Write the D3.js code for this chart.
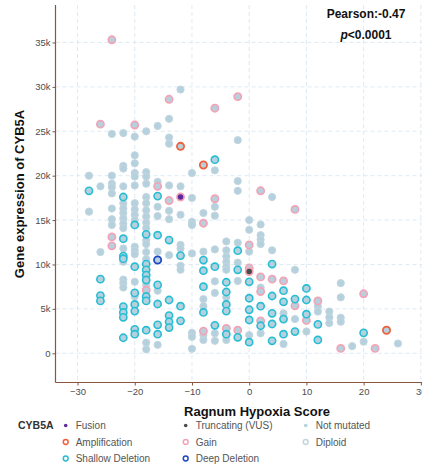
<!DOCTYPE html>
<html><head><meta charset="utf-8">
<script src="https://cdn.jsdelivr.net/npm/d3@7"></script>
<style>
body{margin:0;background:#fff;}
text{font-family:"Liberation Sans",Arial,Helvetica,sans-serif;}
</style></head>
<body><svg id="c" width="422" height="472"></svg>
<script>
// ---- data: [Ragnum hypoxia score, CYB5A expression (thousands)] ----
const diploid = [
[-28,20.0],[-28,15.95],
[-26,18.8],[-26,11.4],
[-24,24.7],[-24,20.0],[-24,19.1],[-24,18.7],[-24,18.0],[-24,16.3],[-24,15.1],[-24,14.45],
[-22,24.8],[-22,21.1],[-22,20.8],[-22,18.8],[-22,16.9],[-22,16.3],[-22,15.8],[-22,15.2],[-22,14.6],[-22,14.1],[-22,11.8],[-22,10.3],[-22,8.3],[-22,7.9],[-22,7.4],
[-20,24.4],[-20,22.3],[-20,21.4],[-20,20.3],[-20,19.9],[-20,18.9],[-20,16.9],[-20,16.2],[-20,15.6],[-20,15.0],[-20,12.0],[-20,11.55],[-20,11.15],[-20,8.05],[-20,6.4],
[-18,25.0],[-18,20.4],[-18,19.9],[-18,19.1],[-18,17.6],[-18,16.9],[-18,16.1],[-18,15.4],[-18,14.7],[-18,14.1],[-18,12.75],[-18,12.3],[-18,11.4],[-18,10.6],[-18,7.7],[-18,1.2],[-18,0.45],
[-16,25.6],[-16,19.3],[-16,16.5],[-16,15.45],[-16,11.45],[-16,7.05],[-16,0.95],
[-14,26.4],[-14,24.3],[-14,23.6],[-14,18.9],[-14,16.05],[-14,15.1],[-14,11.05],
[-12,29.7],[-12,18.8],[-12,15.6],[-12,12.2],[-12,11.8],[-12,9.85],[-12,9.4],
[-10,20.3],[-10,17.5],[-10,14.8],[-10,14.45],[-10,11.25],[-10,2.3],[-10,1.85],[-10,0.5],
[-8,15.8],[-8,11.45],[-8,6.1],[-8,5.3],[-8,2.05],[-8,1.5],
[-6,20.6],[-6,16.5],[-6,15.5],[-6,11.7],[-6,8.1],[-6,6.8],[-6,2.25],[-6,1.4],
[-4,12.6],[-4,11.6],[-4,10.9],[-4,10.3],[-4,9.75],[-4,9.4],[-4,6.3],[-4,1.5],
[-2,24.0],[-2,19.4],[-2,18.3],[-2,12.45],[-2,10.2],[-2,8.15],
[0,15.0],[0,13.9],[0,11.45],[0,2.05],
[2,14.5],[2,13.3],[2,12.8],[2,12.3],[2,7.4],[2,2.25],
[4,17.6],[4,11.6],
[6,4.5],[6,1.05],
[8,9.4],[8,3.85],
[10,2.45],
[12,5.3],[12,4.7],
[14,4.7],[14,4.05],[14,3.4],
[16,7.9],[16,6.3],[16,4.0],[16,3.55],
[18,0.8],[20,1.3],[26,1.1]
];
const gain = [
[-26,25.8],[-24,35.3],[-20,25.7],[-16,18.8],[-14,28.6],[-14,17.2],[-6,27.6],[-6,17.4],[-2,28.9],
[2,18.3],[8,16.2],[-24,13.1],[-24,12.1],[-18,7.1],[-8,14.65],[-8,2.5],[-4,2.8],[-2,2.6],
[0,12.2],[0,9.6],[2,8.6],[2,6.95],[2,3.65],[4,8.35],[6,8.15],[8,5.35],[10,3.7],[12,5.9],
[16,0.55],[20,6.7],[22,0.55]
];
const amplification = [[-12,23.3],[-8,21.2],[24,2.6]];
const shallowDeletion = [
[-28,18.3],[-22,17.6],[-16,17.7],[-6,21.8],
[-26,8.35],[-26,6.5],[-26,5.9],
[-22,12.9],[-22,10.95],[-22,10.65],[-22,5.25],[-22,4.6],[-22,4.05],[-22,1.75],
[-20,14.45],[-20,9.75],[-20,6.8],[-20,5.5],[-20,4.75],[-20,2.7],[-20,2.15],
[-18,13.4],[-18,10.05],[-18,9.4],[-18,8.8],[-18,8.25],[-18,6.4],[-18,5.9],[-18,2.6],
[-16,13.3],[-16,7.7],[-16,5.55],[-16,3.2],[-16,2.15],
[-14,12.75],[-14,6.0],[-14,4.25],[-14,3.55],[-14,2.9],
[-12,11.0],[-12,5.3],[-12,3.65],
[-8,10.5],[-8,9.3],[-8,7.5],[-8,4.6],
[-6,9.75],[-6,3.15],
[-4,8.0],[-4,6.9],[-4,5.5],[-4,4.75],[-4,2.15],
[-2,11.55],[-2,9.4],[-2,1.8],
[0,8.05],[0,6.2],[0,4.9],[0,3.75],[0,1.25],
[2,5.3],[2,3.1],
[4,10.05],[4,6.45],[4,4.5],[4,3.3],[4,1.4],
[6,7.05],[6,5.8],[6,3.85],[6,2.15],
[8,6.1],[8,2.45],
[10,7.3],[10,6.0],[10,4.4],
[12,3.25],[12,1.5],
[20,2.3]
];
const deepDeletion = [[-16,10.5]];
const fusion = [[-12,17.6]];       // CNA: gain
const truncating = [[0,9.2]];      // CNA: gain
const xTicks = [-30,-20,-10,0,10,20,30];
const yTicks = [0,5,10,15,20,25,30,35];
const legendItems = [
 ["Fusion","fusion"],["Amplification","amp"],["Shallow Deletion","shallow"],
 ["Truncating (VUS)","trunc"],["Gain","gain"],["Deep Deletion","deep"],
 ["Not mutated","notmut"],["Diploid","diploid"]
];

// ---- styles ----
const C = {
  notmut:"#b6d1de", diploid:"#c3d6df", gain:"#f3a3b6", amp:"#f0603c",
  shallow:"#27bdd4", deep:"#1e48c4", fusion:"#5b2a9e", trunc:"#4a4a4a",
  axis:"#8a5540", grid:"#d5e5f0", tick:"#4d4d4d"
};
const svg = d3.select("#c");
const L=55.5, R=422, T=5, B=382.5;
const x = d3.scaleLinear().domain([-33.85,30.2]).range([L,R]);
const y = d3.scaleLinear().domain([-3.29,39.22]).range([B,T]);

// grid
const g = svg.append("g");
g.selectAll(".gx").data(xTicks).join("line")
 .attr("x1",d=>x(d)).attr("x2",d=>x(d)).attr("y1",T).attr("y2",B)
 .attr("stroke",C.grid).attr("stroke-width",0.8).attr("stroke-dasharray","4,3");
g.selectAll(".gy").data(yTicks).join("line")
 .attr("x1",L).attr("x2",R).attr("y1",d=>y(d)).attr("y2",d=>y(d))
 .attr("stroke",C.grid).attr("stroke-width",0.8).attr("stroke-dasharray","4,3");

// axes
const ax = svg.append("g").attr("transform",`translate(0,${B})`)
 .call(d3.axisBottom(x).tickValues(xTicks).tickSize(3).tickPadding(3));
const ay = svg.append("g").attr("transform",`translate(${L},0)`)
 .call(d3.axisLeft(y).tickValues(yTicks).tickSize(3).tickPadding(2)
   .tickFormat(d=>d===0?"0":d+"k"));
[ax,ay].forEach(a=>{
  a.select(".domain").remove();
  a.selectAll("line").attr("stroke",C.axis);
  a.selectAll("text").attr("fill",C.tick).attr("font-size","9.5px")
   .attr("font-family","Liberation Sans, Arial, sans-serif");
});
svg.append("line").attr("x1",L).attr("x2",L).attr("y1",T).attr("y2",B)
 .attr("stroke",C.axis).attr("stroke-width",1.2);
svg.append("line").attr("x1",L).attr("x2",R).attr("y1",B).attr("y2",B)
 .attr("stroke",C.axis).attr("stroke-width",1.2);

// points
const r = 3.6;
function draw(data, fill, stroke, sw){
  svg.append("g").selectAll("circle").data(data).join("circle")
   .attr("cx",d=>x(d[0])).attr("cy",d=>y(d[1]))
   .attr("r",r).attr("fill",fill).attr("stroke",stroke).attr("stroke-width",sw);
}
draw(diploid, C.notmut, C.diploid, 1);
draw(gain, C.notmut, C.gain, 1.7);
draw(amplification, C.notmut, C.amp, 1.8);
draw(shallowDeletion, C.notmut, C.shallow, 1.6);
draw(deepDeletion, C.notmut, C.deep, 1.8);
draw(fusion, C.fusion, C.gain, 1.7);
draw(truncating, C.trunc, C.gain, 1.7);

// titles
svg.append("text").attr("transform",`translate(24,194) rotate(-90)`)
 .attr("text-anchor","middle").attr("font-size","13px").attr("font-weight","bold")
 .attr("fill","#111").text("Gene expression of CYB5A");
svg.append("text").attr("x",257).attr("y",415.5)
 .attr("text-anchor","middle").attr("font-size","13px").attr("font-weight","bold")
 .attr("fill","#111").text("Ragnum Hypoxia Score");

// annotation
svg.append("text").attr("x",366).attr("y",18).attr("text-anchor","middle")
 .attr("font-size","12px").attr("font-weight","bold").attr("fill","#111").text("Pearson:-0.47");
const pt = svg.append("text").attr("x",366).attr("y",39).attr("text-anchor","middle")
 .attr("font-size","12px").attr("font-weight","bold").attr("fill","#111");
pt.append("tspan").attr("font-style","italic").text("p");
pt.append("tspan").text("<0.0001");

// legend
svg.append("text").attr("x",18).attr("y",429).attr("font-size","10.5px")
 .attr("font-weight","bold").attr("fill","#333").text("CYB5A");
const colX=[65.7,185.7,305.7], rowY=[425.5,442,458.5];
legendItems.forEach((it,i)=>{
  const cx=colX[Math.floor(i/3)], cy=rowY[i%3], k=it[1];
  const c = svg.append("circle").attr("cx",cx).attr("cy",cy);
  if(k==="fusion"||k==="trunc"||k==="notmut"){
    c.attr("r",1.8).attr("fill",C[k]).attr("stroke","none");
  } else {
    c.attr("r",2.4).attr("fill","none").attr("stroke",C[k]).attr("stroke-width",1.5);
  }
  svg.append("text").attr("x",cx+10).attr("y",cy+3.5).attr("font-size","10px")
   .attr("fill","#555").text(it[0]);
});
</script></body></html>
